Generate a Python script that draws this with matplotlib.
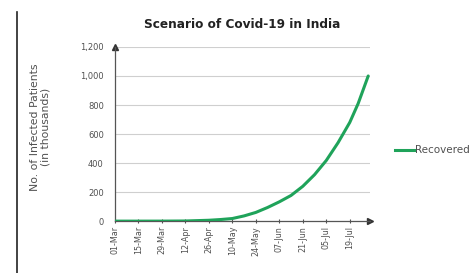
import datetime as dt

import matplotlib

matplotlib.use("Agg")
import matplotlib.dates as mdates
import matplotlib.pyplot as plt
from matplotlib.lines import Line2D
from matplotlib.ticker import FuncFormatter

# Recovered patients (thousands).
DATES = ["2020-03-01", "2020-03-15", "2020-03-29", "2020-04-12", "2020-04-26",
         "2020-05-03", "2020-05-10", "2020-05-17", "2020-05-24", "2020-05-31",
         "2020-06-07", "2020-06-14", "2020-06-21", "2020-06-28", "2020-07-05",
         "2020-07-12", "2020-07-19", "2020-07-24", "2020-07-30"]
RECOVERED = [0, 0, 0.1, 1, 6, 11, 18, 36, 60, 94, 133, 177, 240, 320, 418,
             540, 680, 810, 1000]
TICK_DATES = ["2020-03-01", "2020-03-15", "2020-03-29", "2020-04-12", "2020-04-26",
              "2020-05-10", "2020-05-24", "2020-06-07", "2020-06-21", "2020-07-05",
              "2020-07-19"]
YTICKS = [0, 200, 400, 600, 800, 1000, 1200]
GREEN, GRID, AXIS, TXT = "#1fa35a", "#cfcfcf", "#555555", "#505050"

to_date = lambda s: dt.datetime.strptime(s, "%Y-%m-%d")  # noqa: E731

fig = plt.figure(figsize=(4.73, 2.73), dpi=100)
ax = fig.add_axes([0.243, 0.190, 0.539, 0.638])

x = [to_date(d) for d in DATES]
ax.plot(x, RECOVERED, color=GREEN, lw=2.2, solid_capstyle="round", zorder=3)

ax.set_xlim(to_date("2020-03-01"), to_date("2020-07-31"))
ax.set_ylim(0, 1200)
ax.set_yticks(YTICKS)
ax.yaxis.set_major_formatter(FuncFormatter(lambda v, _: f"{int(v):,}"))
ax.set_xticks([to_date(d) for d in TICK_DATES])
ax.xaxis.set_major_formatter(mdates.DateFormatter("%d-%b"))
ax.tick_params(axis="x", labelrotation=90, labelsize=5.8, colors=TXT, length=3,
               direction="inout", width=0.8, pad=2)
ax.tick_params(axis="y", labelsize=6, colors=TXT, length=0, pad=8)
ax.grid(axis="y", color=GRID, lw=0.8)
ax.set_axisbelow(True)
for s in ["top", "right"]:
    ax.spines[s].set_visible(False)
for s in ["left", "bottom"]:
    ax.spines[s].set_color(AXIS)
    ax.spines[s].set_linewidth(0.9)
# arrow heads on the axes
ax.plot(1, 0, ">", transform=ax.transAxes, color="#333333", ms=4, clip_on=False)
ax.plot(0, 1, "^", transform=ax.transAxes, color="#333333", ms=4, clip_on=False)

ax.set_title("Scenario of Covid-19 in India", fontsize=8.7, fontweight="bold",
             color="#222222", pad=14)
fig.text(0.085, 0.535, "No. of Infected Patients\n(in thousands)", rotation=90,
         ha="center", va="center", fontsize=7.8, color=TXT, linespacing=1.1)

fig.legend(handles=[Line2D([], [], color=GREEN, lw=2.2)], labels=["Recovered"],
           loc="center left", bbox_to_anchor=(0.815, 0.45), frameon=False,
           fontsize=7.5, handlelength=1.8, handletextpad=0.1, labelcolor=TXT)

# frame line at the left edge of the screenshot
fig.add_artist(Line2D([0.035, 0.035], [0, 0.955], color="#222222", lw=1.2))

fig.savefig("out.png", dpi=100)
